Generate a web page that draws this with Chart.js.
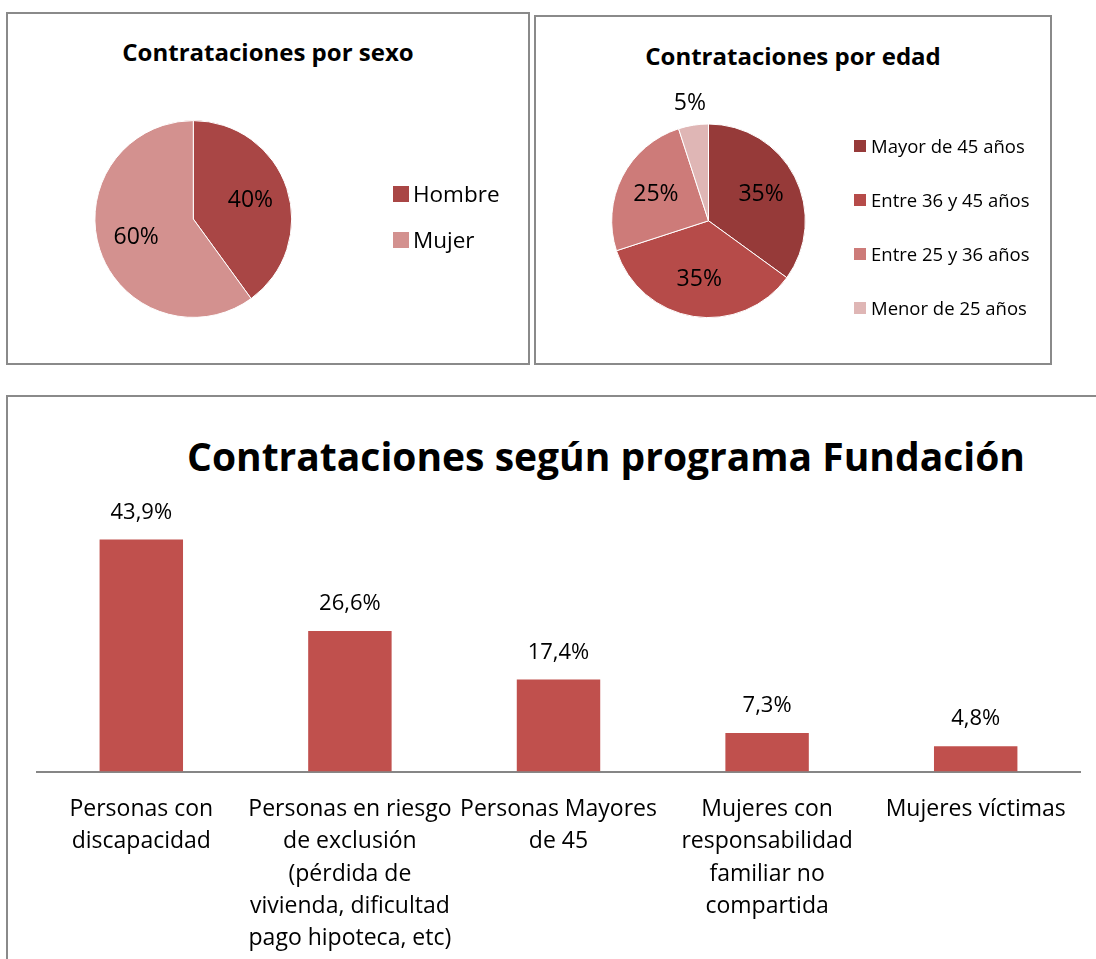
<!DOCTYPE html>
<html lang="es">
<head>
<meta charset="utf-8">
<title>Contrataciones</title>
<script src="https://cdn.jsdelivr.net/npm/chart.js@4.4.1/dist/chart.umd.min.js"></script>
<style>
  html, body { margin: 0; padding: 0; background: #fff; overflow: hidden; }
  body { width: 1096px; height: 959px; position: relative; font-family: "Open Sans", sans-serif; color: #000; }
  .box { position: absolute; box-sizing: border-box; border: 2px solid #8a8a8a; }
  .title { position: absolute; font-weight: bold; white-space: nowrap; text-align: center; line-height: 1; }
  canvas { position: absolute; }
  .legend { position: absolute; margin: 0; padding: 0; list-style: none; white-space: nowrap; }
  .legend li { display: flex; align-items: center; }
  .legend .sw { display: inline-block; flex: none; }

  #sexBox { left: 6px; top: 12px; width: 524px; height: 353px; }
  #ageBox { left: 534px; top: 15px; width: 518px; height: 350px; }
  #programBox { left: 6px; top: 395px; width: 1300px; height: 700px; }

  #sexTitle { left: 6px; width: 524px; top: 39.5px; font-size: 24px; }
  #ageTitle { left: 534px; width: 518px; top: 43.5px; font-size: 24px; }
  #programTitle { left: 6px; width: 1200px; top: 436px; font-size: 39px; }

  #sexLegend { left: 393px; top: 170.5px; font-size: 22.5px; }
  #sexLegend li { height: 46.5px; line-height: 46.5px; }
  #sexLegend .sw { width: 16px; height: 16px; margin-right: 4px; }

  #ageLegend { left: 854px; top: 119px; font-size: 18.5px; }
  #ageLegend li { height: 54px; line-height: 54px; }
  #ageLegend .sw { width: 12px; height: 12px; margin-right: 5px; }
</style>
</head>
<body>
<div class="box" id="sexBox"></div>
<div class="box" id="ageBox"></div>
<div class="box" id="programBox"></div>

<div class="title" id="sexTitle">Contrataciones por sexo</div>
<div class="title" id="ageTitle">Contrataciones por edad</div>
<div class="title" id="programTitle">Contrataciones según programa Fundación</div>

<canvas id="sexChart" width="520" height="349" style="left:8px; top:14px;"></canvas>
<canvas id="ageChart" width="514" height="346" style="left:536px; top:17px;"></canvas>
<canvas id="programChart" width="1088" height="562" style="left:8px; top:397px;"></canvas>

<ul class="legend" id="sexLegend"></ul>
<ul class="legend" id="ageLegend"></ul>

<script>
// datos
const sexLabels = ["Hombre", "Mujer"];
const sexValues = [40, 60];
const sexColors = ["#A94645", "#D3918F"];

const ageLabels = ["Mayor de 45 años", "Entre 36 y 45 años", "Entre 25 y 36 años", "Menor de 25 años"];
const ageValues = [35, 35, 25, 5];
const ageColors = ["#963A39", "#B64B49", "#CD7B79", "#DFB6B5"];

const programLabels = [
  ["Personas con", "discapacidad"],
  ["Personas en riesgo", "de exclusión", "(pérdida de", "vivienda, dificultad", "pago hipoteca, etc)"],
  ["Personas Mayores", "de 45"],
  ["Mujeres con", "responsabilidad", "familiar no", "compartida"],
  ["Mujeres víctimas"],
];
const programValues = [43.9, 26.6, 17.4, 7.3, 4.8];
const barColor = "#C0504D";

Chart.defaults.font.family = '"Open Sans", sans-serif';
Chart.defaults.color = "#000";

// etiquetas de porcentaje dentro de cada porción
const pieLabels = {
  id: "pieLabels",
  afterDatasetsDraw(chart, args, opts) {
    const ctx = chart.ctx;
    const values = chart.data.datasets[0].data;
    ctx.save();
    ctx.font = opts.size + 'px "Open Sans"';
    ctx.fillStyle = "#000";
    ctx.textAlign = "center";
    ctx.textBaseline = "middle";
    chart.getDatasetMeta(0).data.forEach((arc, i) => {
      const p = arc.getProps(["x", "y", "startAngle", "endAngle", "outerRadius"], true);
      const mid = (p.startAngle + p.endAngle) / 2;
      const k = values[i] < 10 ? 1.225 : 0.61;
      ctx.fillText(values[i] + "%", p.x + Math.cos(mid) * p.outerRadius * k, p.y + Math.sin(mid) * p.outerRadius * k);
    });
    ctx.restore();
  },
};

// etiquetas encima de las barras
const barLabels = {
  id: "barLabels",
  afterDatasetsDraw(chart, args, opts) {
    const ctx = chart.ctx;
    const values = chart.data.datasets[0].data;
    ctx.save();
    ctx.font = opts.size + 'px "Open Sans"';
    ctx.fillStyle = "#000";
    ctx.textAlign = "center";
    ctx.textBaseline = "middle";
    chart.getDatasetMeta(0).data.forEach((bar, i) => {
      ctx.fillText(values[i].toFixed(1).replace(".", ",") + "%", bar.x, bar.y - opts.offset);
    });
    ctx.restore();
  },
};

function pieChart(id, labels, values, colors, padding) {
  return new Chart(document.getElementById(id), {
    type: "pie",
    data: {
      labels: labels,
      datasets: [{ data: values, backgroundColor: colors, borderColor: "#fff", borderWidth: 1 }],
    },
    options: {
      responsive: false,
      animation: false,
      layout: { padding: padding },
      plugins: {
        legend: { display: false },
        tooltip: { enabled: false },
        pieLabels: { size: 23 },
      },
    },
    plugins: [pieLabels],
  });
}

function buildLegend(id, labels, colors) {
  const ul = document.getElementById(id);
  labels.forEach((text, i) => {
    const li = document.createElement("li");
    const sw = document.createElement("span");
    sw.className = "sw";
    sw.style.background = colors[i];
    li.appendChild(sw);
    li.appendChild(document.createTextNode(text));
    ul.appendChild(li);
  });
}

pieChart("sexChart", sexLabels, sexValues, sexColors, { left: 86.4, top: 106.1, right: 235.8, bottom: 45.1 });
pieChart("ageChart", ageLabels, ageValues, ageColors, { left: 75.2, top: 106.5, right: 244.2, bottom: 44.9 });
buildLegend("sexLegend", sexLabels, sexColors);
buildLegend("ageLegend", ageLabels, ageColors);

new Chart(document.getElementById("programChart"), {
  type: "bar",
  data: {
    labels: programLabels,
    datasets: [{ data: programValues, backgroundColor: barColor, barPercentage: 0.4, categoryPercentage: 1 }],
  },
  options: {
    responsive: false,
    animation: false,
    layout: { padding: { left: 29, right: 16, top: 110.3, bottom: 0 } },
    plugins: {
      legend: { display: false },
      tooltip: { enabled: false },
      barLabels: { size: 22, offset: 27 },
    },
    scales: {
      x: {
        grid: { display: false },
        border: { color: "#868686", width: 2 },
        ticks: { color: "#000", font: { size: 23, lineHeight: 1.41 }, padding: 13.5, maxRotation: 0, autoSkip: false },
        afterFit(scale) { scale.height = 187.5; },
      },
      y: { display: false, min: 0, max: 50 },
    },
  },
  plugins: [barLabels],
});
</script>
</body>
</html>
